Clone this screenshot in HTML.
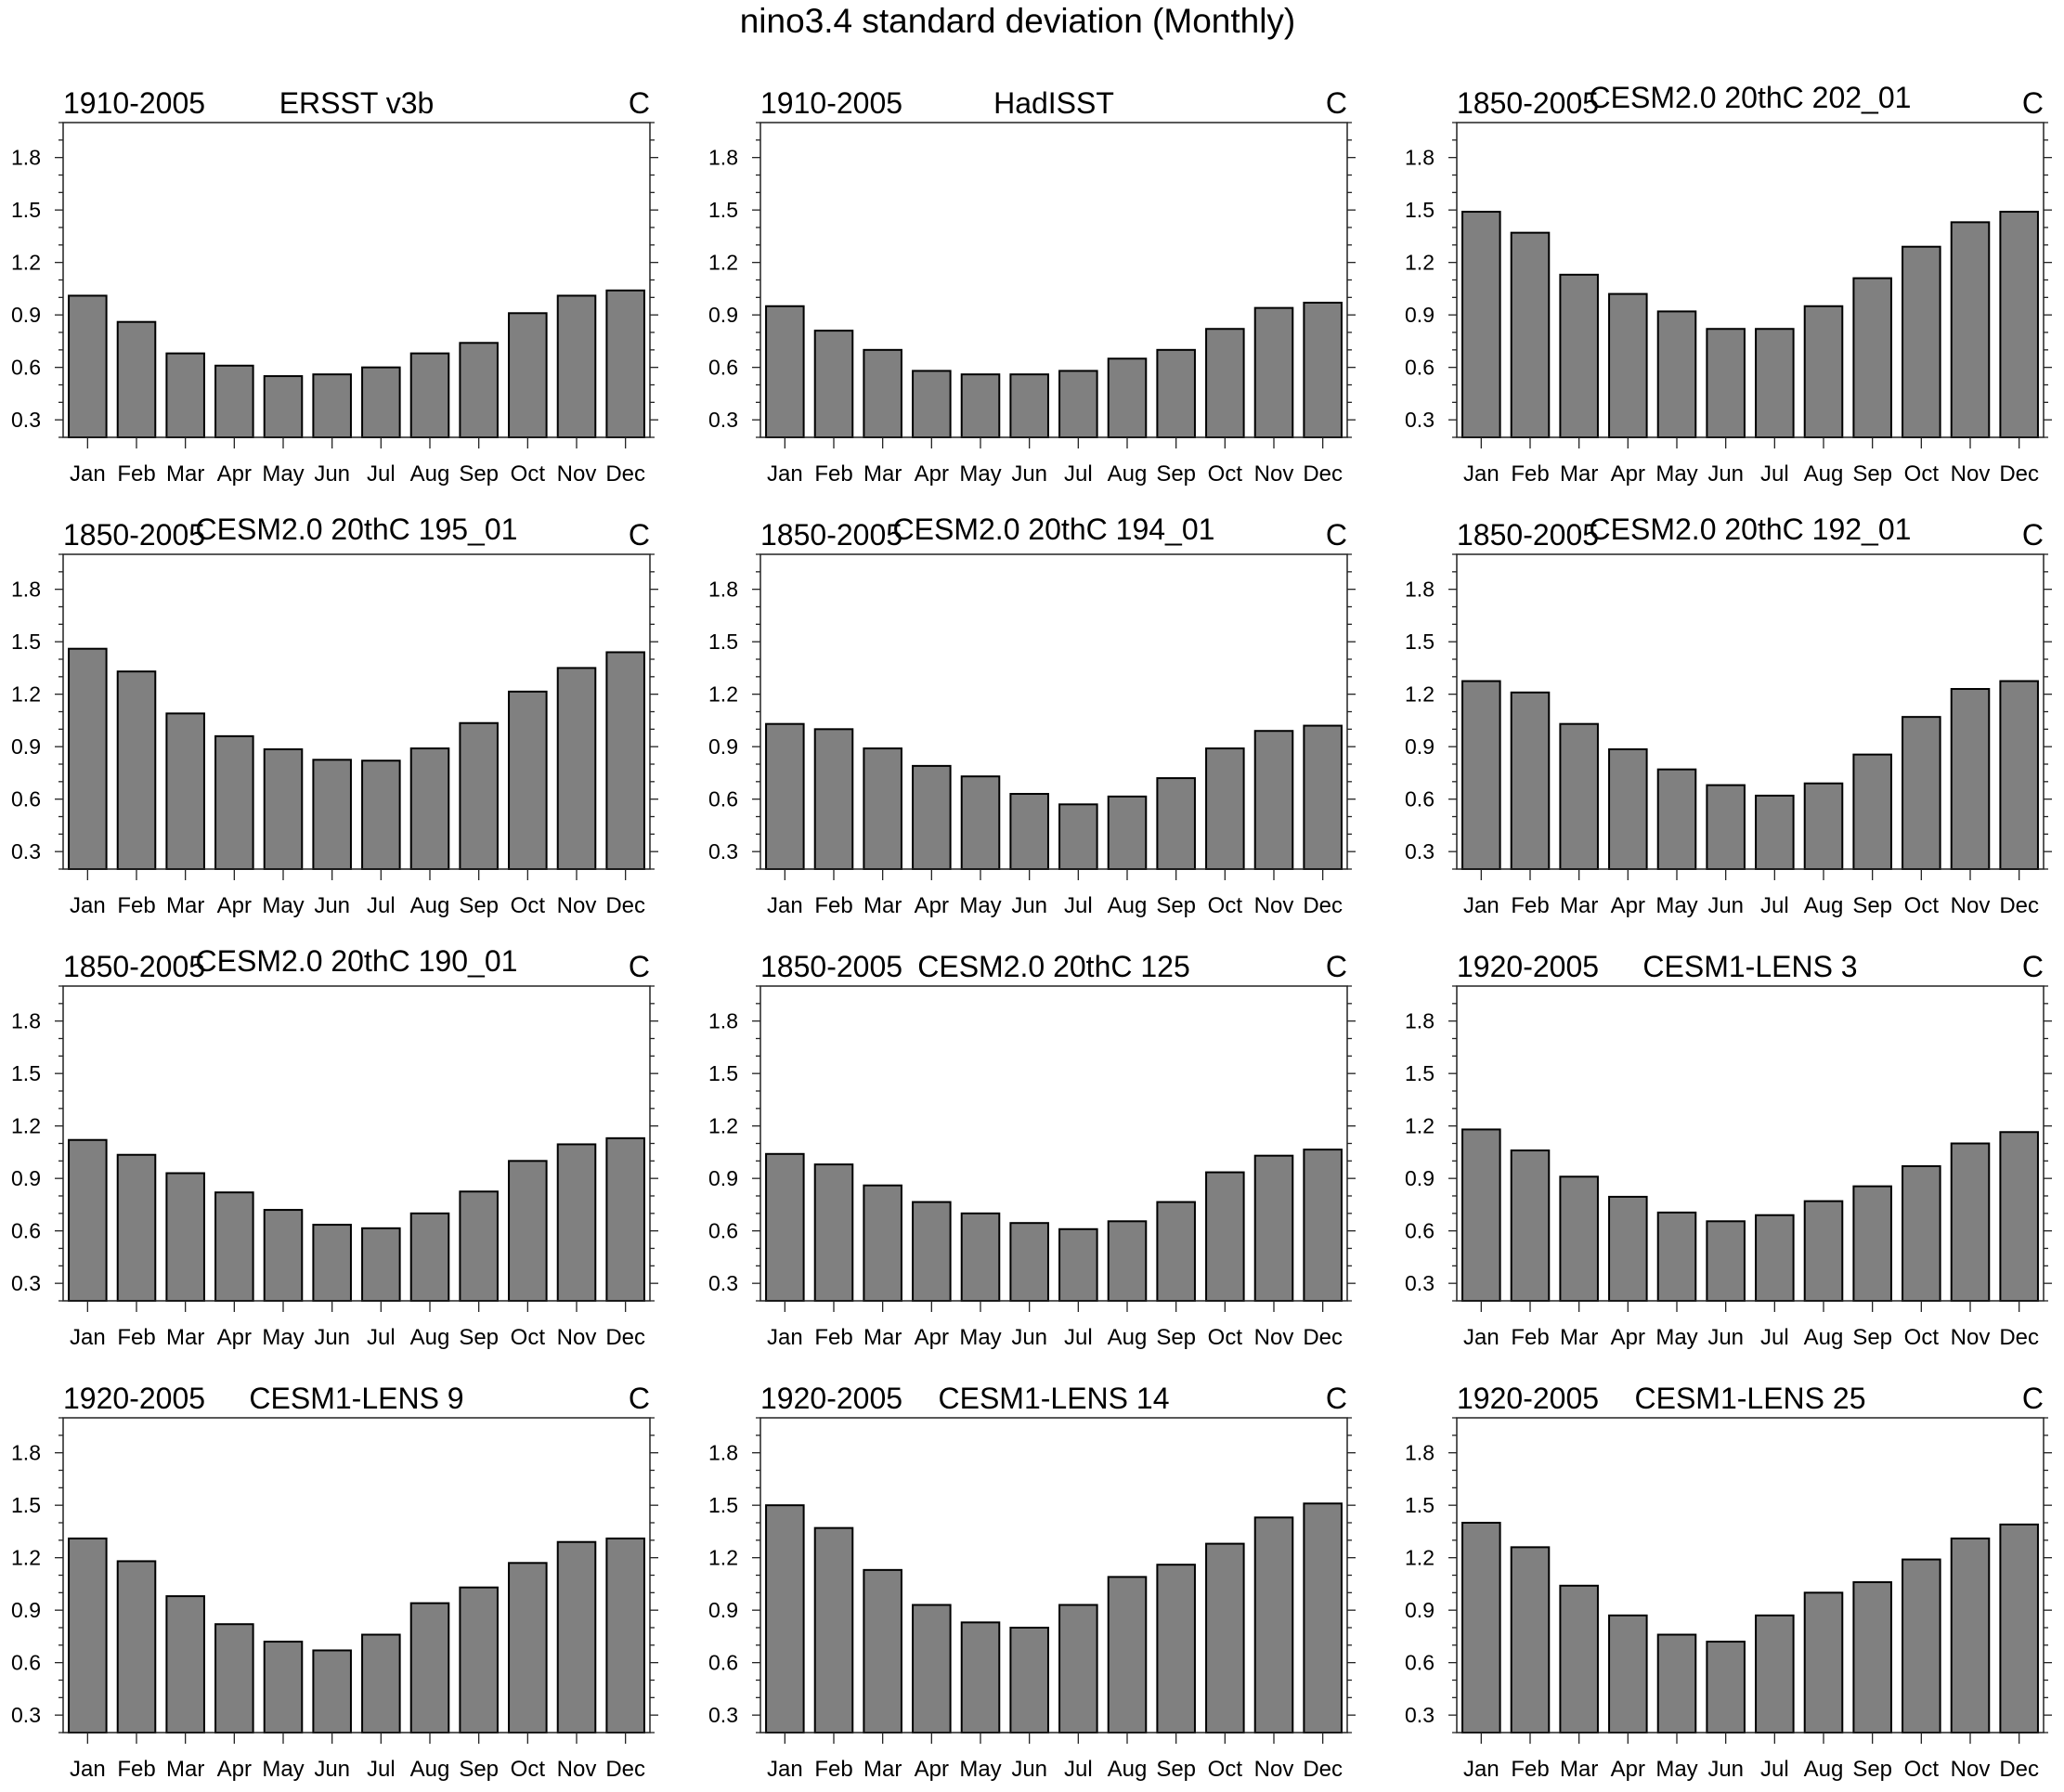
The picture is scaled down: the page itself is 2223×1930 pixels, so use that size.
<!DOCTYPE html>
<html><head><meta charset="utf-8"><style>
html,body{margin:0;padding:0;background:#fff;}
svg{display:block;font-family:"Liberation Sans",sans-serif;}
</style></head><body>
<svg id="chart" width="2223" height="1930" viewBox="0 0 2223 1930" xmlns="http://www.w3.org/2000/svg">
<text x="1096" y="35" font-size="37" text-anchor="middle">nino3.4 standard deviation (Monthly)</text>
</svg>
<script>
const months = ["Jan","Feb","Mar","Apr","May","Jun","Jul","Aug","Sep","Oct","Nov","Dec"];
const yTicks = [0.3,0.6,0.9,1.2,1.5,1.8];
const yTickLabels = ["0.3","0.6","0.9","1.2","1.5","1.8"];
const periods = ["1910-2005","1910-2005","1850-2005","1850-2005","1850-2005","1850-2005","1850-2005","1850-2005","1920-2005","1920-2005","1920-2005","1920-2005"];
const names = ["ERSST v3b","HadISST","CESM2.0 20thC 202_01","CESM2.0 20thC 195_01","CESM2.0 20thC 194_01","CESM2.0 20thC 192_01","CESM2.0 20thC 190_01","CESM2.0 20thC 125","CESM1-LENS 3","CESM1-LENS 9","CESM1-LENS 14","CESM1-LENS 25"];
const ersst = [1.01,0.86,0.68,0.61,0.55,0.56,0.60,0.68,0.74,0.91,1.01,1.04];
const hadisst = [0.95,0.81,0.70,0.58,0.56,0.56,0.58,0.65,0.70,0.82,0.94,0.97];
const c202 = [1.49,1.37,1.13,1.02,0.92,0.82,0.82,0.95,1.11,1.29,1.43,1.49];
const c195 = [1.46,1.33,1.09,0.96,0.885,0.825,0.82,0.89,1.035,1.215,1.35,1.44];
const c194 = [1.03,1.00,0.89,0.79,0.73,0.63,0.57,0.615,0.72,0.89,0.99,1.02];
const c192 = [1.275,1.21,1.03,0.885,0.77,0.68,0.62,0.69,0.855,1.07,1.23,1.275];
const c190 = [1.12,1.035,0.93,0.82,0.72,0.635,0.615,0.70,0.825,1.00,1.095,1.13];
const c125 = [1.04,0.98,0.86,0.765,0.70,0.645,0.61,0.655,0.765,0.935,1.03,1.065];
const lens3 = [1.18,1.06,0.91,0.795,0.705,0.655,0.69,0.77,0.855,0.97,1.10,1.165];
const lens9 = [1.31,1.18,0.98,0.82,0.72,0.67,0.76,0.94,1.03,1.17,1.29,1.31];
const lens14 = [1.50,1.37,1.13,0.93,0.83,0.80,0.93,1.09,1.16,1.28,1.43,1.51];
const lens25 = [1.40,1.26,1.04,0.87,0.76,0.72,0.87,1.00,1.06,1.19,1.31,1.39];
const series = [ersst,hadisst,c202,c195,c194,c192,c190,c125,lens3,lens9,lens14,lens25];
const raised = [false,false,true,true,true,true,true,false,false,false,false,false];

const svg = document.getElementById('chart');
const NS = "http://www.w3.org/2000/svg";
const colL = [68,819,1569], rowT = [132,597,1062,1527];
const W = 632, H = 339, YMIN = 0.2, YMAX = 2.0;
function mk(tag, attrs, parent){const e=document.createElementNS(NS,tag);for(const k in attrs)e.setAttribute(k,attrs[k]);parent.appendChild(e);return e;}

series.forEach((vals, p) => {
  const x0 = colL[p%3], y0 = rowT[Math.floor(p/3)];
  const g = mk('g', {}, svg);
  
  
  const xs = i => x0 + (i+0.5)*W/12;
  const ys = v => y0 + H - (v-YMIN)/(YMAX-YMIN)*H;
  const bw = W/12*0.77;
  vals.forEach((v,i) => {
    const r = mk('rect', {x:xs(i)-bw/2, y:ys(v), width:bw, height:ys(YMIN)-ys(v), fill:'#808080', stroke:'#000', 'stroke-width':2}, g);
    
    
  });
  const fr = mk('rect', {x:x0, y:y0, width:W, height:H, fill:'none', stroke:'#222', 'stroke-width':1.5}, g);
  
  
  for (let k=2;k<=20;k++){
    const v=k/10, y=ys(v), major = (k%3===0);
    const len = major?9:5;
    mk('line',{x1:x0,x2:x0-len,y1:y,y2:y,stroke:'#222','stroke-width':1.3},g);
    mk('line',{x1:x0+W,x2:x0+W+len,y1:y,y2:y,stroke:'#222','stroke-width':1.3},g);
  }
  yTicks.forEach((v,i) => {
    const t = mk('text',{x:x0-24,y:ys(v)+8,'font-size':23,'text-anchor':'end'},g);
    t.textContent = yTickLabels[i];
    
    
  });
  months.forEach((m,i) => {
    mk('line',{x1:xs(i),x2:xs(i),y1:y0+H,y2:y0+H+12,stroke:'#222','stroke-width':1.3},g);
    const t = mk('text',{x:xs(i),y:y0+H+47,'font-size':24,'text-anchor':'middle'},g);
    t.textContent = m;
    
    
  });
  const t1 = mk('text',{x:x0,y:y0-10,'font-size':32},g);
  t1.textContent = periods[p];
  
  
  const t2 = mk('text',{x:x0+W/2,y:y0-(raised[p]?16:10),'font-size':32,'text-anchor':'middle'},g);
  t2.textContent = names[p];
  
  
  const t3 = mk('text',{x:x0+W,y:y0-10,'font-size':32,'text-anchor':'end'},g);
  t3.textContent = 'C';
  
  
});
</script>
</body></html>
